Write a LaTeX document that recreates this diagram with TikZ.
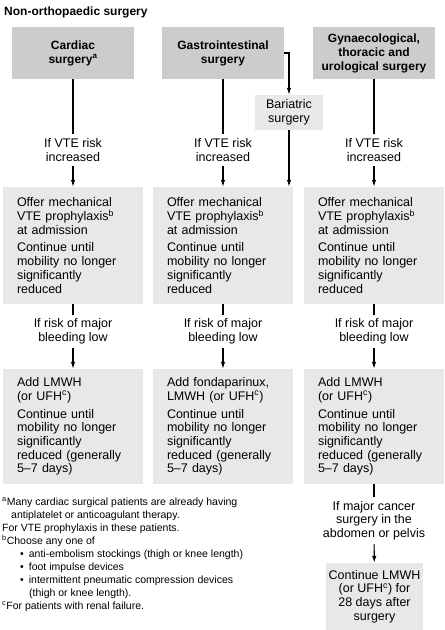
\documentclass[tikz,border=0pt]{standalone}
\usepackage{fontspec}
\setmainfont{Liberation Sans}
\usetikzlibrary{arrows.meta}
\definecolor{boxDark}{gray}{0.80}
\definecolor{boxLight}{gray}{0.91}
\newcommand{\pNote}[1]{\textsuperscript{#1}}
\newcommand{\pBody}{\fontsize{12.5}{13.7}\selectfont}

\begin{document}
\begin{tikzpicture}[x=1pt,y=-1pt,
  topbox/.style={fill=boxDark, minimum width=122pt, minimum height=52pt, inner sep=0pt, align=center, font={\fontsize{12}{14}\selectfont\bfseries}},
  stepbox/.style={fill=boxLight, text width=112pt, inner xsep=14pt, inner ysep=0pt, align=left, font=\pBody},
  cond/.style={inner sep=4pt, align=center, font=\pBody},
  link/.style={line width=1.1pt},
  arr/.style={line width=1.1pt, -{Latex[length=7pt,width=4.5pt]}}]
\useasboundingbox (0,0) rectangle (445,630);
\node[anchor=west, inner sep=0pt, font={\fontsize{12}{14}\selectfont\bfseries}] (title) at (4,12) {Non-orthopaedic surgery};
% top row
\node[topbox] (cardiac) at (73,53) {Cardiac\\surgery\pNote{a}};
\node[topbox] (gastro) at (223,53) {Gastrointestinal\\surgery};
\node[topbox] (gynae) at (374,53) {Gynaecological,\\thoracic and\\urological surgery};
\node[fill=boxLight, minimum width=68pt, minimum height=35pt, inner sep=0pt, align=center, font=\pBody] (bari) at (289,112.5) {Bariatric\\surgery};
% if VTE risk increased
\node[cond] (vte1) at (73,150) {If VTE risk\\increased};
\node[cond] (vte2) at (223,150) {If VTE risk\\increased};
\node[cond] (vte3) at (374,150) {If VTE risk\\increased};
\node[stepbox, minimum height=117pt] (offer1) at (73,245.5) {Offer mechanical\\VTE prophylaxis\pNote{b}\\at admission\\[4pt]Continue until\\mobility no longer\\significantly\\reduced};
\node[stepbox, minimum height=117pt] (offer2) at (223,245.5) {Offer mechanical\\VTE prophylaxis\pNote{b}\\at admission\\[4pt]Continue until\\mobility no longer\\significantly\\reduced};
\node[stepbox, minimum height=117pt] (offer3) at (374,245.5) {Offer mechanical\\VTE prophylaxis\pNote{b}\\at admission\\[4pt]Continue until\\mobility no longer\\significantly\\reduced};
% if risk of major bleeding low
\node[cond] (bleed1) at (73,331.5) {If risk of major\\bleeding low};
\node[cond] (bleed2) at (223,331.5) {If risk of major\\bleeding low};
\node[cond] (bleed3) at (374,331.5) {If risk of major\\bleeding low};
\node[stepbox, minimum height=115pt] (add1) at (73,426.5) {Add LMWH\\(or UFH\pNote{c})\\[4pt]Continue until\\mobility no longer\\significantly\\reduced (generally\\5--7 days)};
\node[stepbox, minimum height=115pt] (add2) at (223,426.5) {Add fondaparinux,\\LMWH (or UFH\pNote{c})\\[4pt]Continue until\\mobility no longer\\significantly\\reduced (generally\\5--7 days)};
\node[stepbox, minimum height=115pt] (add3) at (374,426.5) {Add LMWH\\(or UFH\pNote{c})\\[4pt]Continue until\\mobility no longer\\significantly\\reduced (generally\\5--7 days)};
% cancer surgery
\node[cond] (cancer) at (374,520.5) {If major cancer\\surgery in the\\abdomen or pelvis};
\node[fill=boxLight, minimum width=97pt, minimum height=67pt, inner sep=0pt, align=center, font=\pBody] (cont) at (374.5,596.5) {Continue LMWH\\(or UFH\pNote{c}) for\\28 days after\\surgery};
% footnotes
\node[anchor=north west, inner sep=0pt, align=left, font={\fontsize{10.5}{13}\selectfont}] (notes) at (2,497) {\pNote{a}Many cardiac surgical patients are already having\\
\hspace*{9pt}antiplatelet or anticoagulant therapy.\\
For VTE prophylaxis in these patients.\\
\pNote{b}Choose any one of\\
\hspace*{18pt}\textbullet\hspace*{5pt}anti-embolism stockings (thigh or knee length)\\
\hspace*{18pt}\textbullet\hspace*{5pt}foot impulse devices\\
\hspace*{18pt}\textbullet\hspace*{5pt}intermittent pneumatic compression devices\\
\hspace*{27pt}(thigh or knee length).\\
\pNote{c}For patients with renal failure.};
% connectors
\draw[link] (cardiac) -- (vte1);
\draw[link] (gastro) -- (vte2);
\draw[link] (gynae) -- (vte3);
\draw[arr] (gastro.east) -| (bari.north);
\draw[arr] (vte1) -- (offer1);
\draw[arr] (vte2) -- (offer2);
\draw[arr] (vte3) -- (offer3);
\draw[arr] (bari.south) -- (bari.south |- offer2.north);
\draw[link] (offer1) -- (bleed1);
\draw[link] (offer2) -- (bleed2);
\draw[link] (offer3) -- (bleed3);
\draw[arr] (bleed1) -- (add1);
\draw[arr] (bleed2) -- (add2);
\draw[arr] (bleed3) -- (add3);
\draw[link] (add3) -- (cancer);
\draw[arr] (cancer) -- (cont);
\end{tikzpicture}
\end{document}
